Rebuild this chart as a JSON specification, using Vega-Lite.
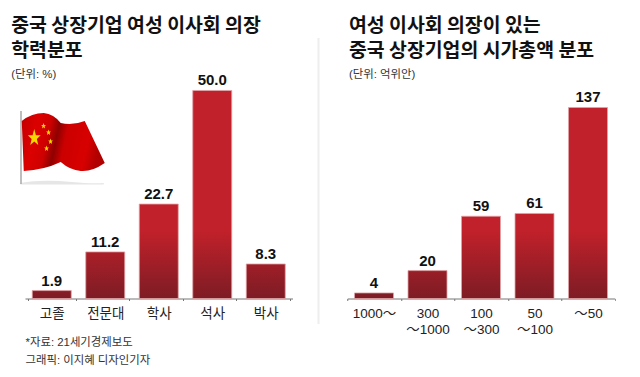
{
"$schema":"https://vega.github.io/schema/vega-lite/v6.json",
"padding":{"left":11,"top":15.5,"right":0,"bottom":0},
"background":"white",
"spacing":24.25,
"config":{"view":{"stroke":null},"font":"Liberation Sans, Noto Sans CJK KR",
"title":{"font":"Noto Sans CJK KR","fontWeight":"bold","fontSize":19.4,"lineHeight":25,"color":"#111","anchor":"start","subtitleFont":"Liberation Sans, Noto Sans CJK KR","subtitleFontSize":11.4,"subtitleColor":"#333","subtitlePadding":7.5},
"axisX":{"labelAngle":0,"domainColor":"#777","tickColor":"#777","tickSize":2,"labelFontSize":13.5,"labelColor":"#222","labelPadding":6,"zindex":1}},
"hconcat":[
{"width":267.5,"height":216,
"title":{"text":["중국 상장기업 여성 이사회 의장","학력분포"],"subtitle":"(단위: %)","dx":-9,"offset":-8},
"data":{"values":[{"c":"고졸","v":1.9},{"c":"전문대","v":11.2},{"c":"학사","v":22.7},{"c":"석사","v":50.0},{"c":"박사","v":8.3}]},
"encoding":{
"x":{"field":"c","type":"nominal","sort":["고졸","전문대","학사","석사","박사"],
"axis":{"title":["*자료: 21세기경제보도","그래픽: 이지혜 디자인기자"],"titleFont":"Liberation Sans, Noto Sans CJK KR","titleFontSize":11.4,"titleFontWeight":"normal","titleColor":"#333","titleLineHeight":18,"titleAlign":"left","titleAnchor":"start","titleX":0,"titleY":38,"titleBaseline":"top","tickBand":"extent"}},
"y":{"field":"v","type":"quantitative","scale":{"domain":[0,51.92],"nice":false},"axis":null}
},
"layer":[
{"transform":[{"filter":"datum.c==='고졸'"}],"mark":{"type":"bar","size":39,"stroke":"#dfa3a6","strokeWidth":0.8,"fill":{"gradient":"linear","x1":0,"y1":0,"x2":0,"y2":1,"stops":[{"offset":0,"color":"#851d26"},{"offset":1,"color":"#7d1c25"}]}}},
{"transform":[{"filter":"datum.c==='전문대'"}],"mark":{"type":"bar","size":39,"stroke":"#dfa3a6","strokeWidth":0.8,"fill":{"gradient":"linear","x1":0,"y1":0,"x2":0,"y2":1,"stops":[{"offset":0,"color":"#ab1f28"},{"offset":1,"color":"#7d1c25"}]}}},
{"transform":[{"filter":"datum.c==='학사'"}],"mark":{"type":"bar","size":39,"stroke":"#dfa3a6","strokeWidth":0.8,"fill":{"gradient":"linear","x1":0,"y1":0,"x2":0,"y2":1,"stops":[{"offset":0,"color":"#c1212a"},{"offset":0.28,"color":"#c1212a"},{"offset":1,"color":"#7d1c25"}]}}},
{"transform":[{"filter":"datum.c==='석사'"}],"mark":{"type":"bar","size":39,"stroke":"#dfa3a6","strokeWidth":0.8,"fill":{"gradient":"linear","x1":0,"y1":0,"x2":0,"y2":1,"stops":[{"offset":0,"color":"#c1212a"},{"offset":0.673,"color":"#c1212a"},{"offset":1,"color":"#7d1c25"}]}}},
{"transform":[{"filter":"datum.c==='박사'"}],"mark":{"type":"bar","size":39,"stroke":"#dfa3a6","strokeWidth":0.8,"fill":{"gradient":"linear","x1":0,"y1":0,"x2":0,"y2":1,"stops":[{"offset":0,"color":"#9f1e27"},{"offset":1,"color":"#7d1c25"}]}}},
{"mark":{"type":"text","baseline":"bottom","dy":-2,"fontSize":15,"fontWeight":"bold","color":"#111","font":"Liberation Sans"},
"encoding":{"text":{"field":"v","type":"quantitative","format":".1f"}}},
{"data":{"values":[{"c":"고졸","v":35.7}]},"mark":{"type":"point","filled":true,"opacity":1,"size":4,"strokeWidth":0,"shape":"M-31.5 33 Q-10 29 20 32 Q40 34 52 33 L52 34.5 L-31.5 34.5 Z","fill":"#e6e6e6"}},
{"data":{"values":[{"c":"고졸","v":35.7}]},"mark":{"type":"point","filled":true,"opacity":1,"size":4,"strokeWidth":0,"shape":"M-31.5 -39 L-30 -39 L-30 34 L-31.5 34 Z","fill":"#a8a8a8"}},
{"data":{"values":[{"c":"고졸","v":35.7}]},"mark":{"type":"point","filled":true,"opacity":1,"size":4,"strokeWidth":0,
"shape":"M-30 -29 Q-20 -37 -8 -37 Q2 -36 9 -27 Q20 -24 33 -29 L53 13 Q40 22 29 21 Q18 20 9 12 Q-8 20 -28 21 Z",
"fill":{"gradient":"linear","x1":0,"y1":0,"x2":1,"y2":0.15,"stops":[{"offset":0,"color":"#c20000"},{"offset":0.2,"color":"#dc0000"},{"offset":0.36,"color":"#cf0000"},{"offset":0.47,"color":"#8f0000"},{"offset":0.58,"color":"#cc0000"},{"offset":0.85,"color":"#d80000"},{"offset":1,"color":"#b00000"}]}}},
{"data":{"values":[{"c":"고졸","v":35.7}]},"mark":{"type":"point","filled":true,"opacity":1,"size":4,"strokeWidth":0,
"shape":"M-17.5 -21 L-15.85 -14.8 L-11.1 -14.8 L-14.9 -11 L-13.5 -5 L-17.5 -8.5 L-21.5 -5 L-20.1 -11 L-23.9 -14.8 L-19.15 -14.8 Z M-8.2 -27 L-7.5 -25 L-5.8 -25 L-7.1 -23.7 L-6.7 -21.6 L-8.2 -22.8 L-9.7 -21.6 L-9.3 -23.7 L-10.6 -25 L-8.9 -25 Z M-3.2 -20.5 L-2.5 -18.5 L-0.8 -18.5 L-2.1 -17.2 L-1.7 -15.1 L-3.2 -16.3 L-4.7 -15.1 L-4.3 -17.2 L-5.6 -18.5 L-3.9 -18.5 Z M-1.2 -11.5 L-0.5 -9.5 L1.2 -9.5 L-0.1 -8.2 L0.3 -6.1 L-1.2 -7.3 L-2.7 -6.1 L-2.3 -8.2 L-3.6 -9.5 L-1.9 -9.5 Z M-5.2 -4.5 L-4.5 -2.5 L-2.8 -2.5 L-4.1 -1.2 L-3.7 0.9 L-5.2 -0.3 L-6.7 0.9 L-6.3 -1.2 L-7.6 -2.5 L-5.9 -2.5 Z",
"fill":"#f5d800"}}
]},
{"width":267.5,"height":216,
"title":{"text":["여성 이사회 의장이 있는","중국 상장기업의 시가총액 분포"],"subtitle":"(단위: 억위안)","dx":31.5,"offset":-44},
"data":{"values":[{"c":"1000～","v":4},{"c":"300 ～1000","v":20},{"c":"100 ～300","v":59},{"c":"50 ～100","v":61},{"c":"～50","v":137}]},
"encoding":{
"x":{"field":"c","type":"nominal","sort":["1000～","300 ～1000","100 ～300","50 ～100","～50"],
"axis":{"title":null,"tickBand":"extent","labelExpr":"split(datum.label,' ')","labelLineHeight":16,"labelBaseline":"top"}},
"y":{"field":"v","type":"quantitative","scale":{"domain":[0,154.93],"nice":false},"axis":null}
},
"layer":[
{"data":{"values":[{"c":"1000～","v":186.8,"v2":-18.3}]},"mark":{"type":"rule","color":"#eeeeee","strokeWidth":2,"xOffset":-55.5},
"encoding":{"y2":{"field":"v2"}}},
{"transform":[{"filter":"datum.v===4"}],"mark":{"type":"bar","size":39,"stroke":"#dfa3a6","strokeWidth":0.8,"fill":{"gradient":"linear","x1":0,"y1":0,"x2":0,"y2":1,"stops":[{"offset":0,"color":"#821c25"},{"offset":1,"color":"#7d1c25"}]}}},
{"transform":[{"filter":"datum.v===20"}],"mark":{"type":"bar","size":39,"stroke":"#dfa3a6","strokeWidth":0.8,"fill":{"gradient":"linear","x1":0,"y1":0,"x2":0,"y2":1,"stops":[{"offset":0,"color":"#991e27"},{"offset":1,"color":"#7d1c25"}]}}},
{"transform":[{"filter":"datum.v===59"}],"mark":{"type":"bar","size":39,"stroke":"#dfa3a6","strokeWidth":0.8,"fill":{"gradient":"linear","x1":0,"y1":0,"x2":0,"y2":1,"stops":[{"offset":0,"color":"#c1212a"},{"offset":0.174,"color":"#c1212a"},{"offset":1,"color":"#7d1c25"}]}}},
{"transform":[{"filter":"datum.v===61"}],"mark":{"type":"bar","size":39,"stroke":"#dfa3a6","strokeWidth":0.8,"fill":{"gradient":"linear","x1":0,"y1":0,"x2":0,"y2":1,"stops":[{"offset":0,"color":"#c1212a"},{"offset":0.2,"color":"#c1212a"},{"offset":1,"color":"#7d1c25"}]}}},
{"transform":[{"filter":"datum.v===137"}],"mark":{"type":"bar","size":39,"stroke":"#dfa3a6","strokeWidth":0.8,"fill":{"gradient":"linear","x1":0,"y1":0,"x2":0,"y2":1,"stops":[{"offset":0,"color":"#c1212a"},{"offset":0.644,"color":"#c1212a"},{"offset":1,"color":"#7d1c25"}]}}},
{"mark":{"type":"text","baseline":"bottom","dy":-2,"fontSize":15,"fontWeight":"bold","color":"#111","font":"Liberation Sans"},
"encoding":{"text":{"field":"v","type":"quantitative"}}}
]}
]}
